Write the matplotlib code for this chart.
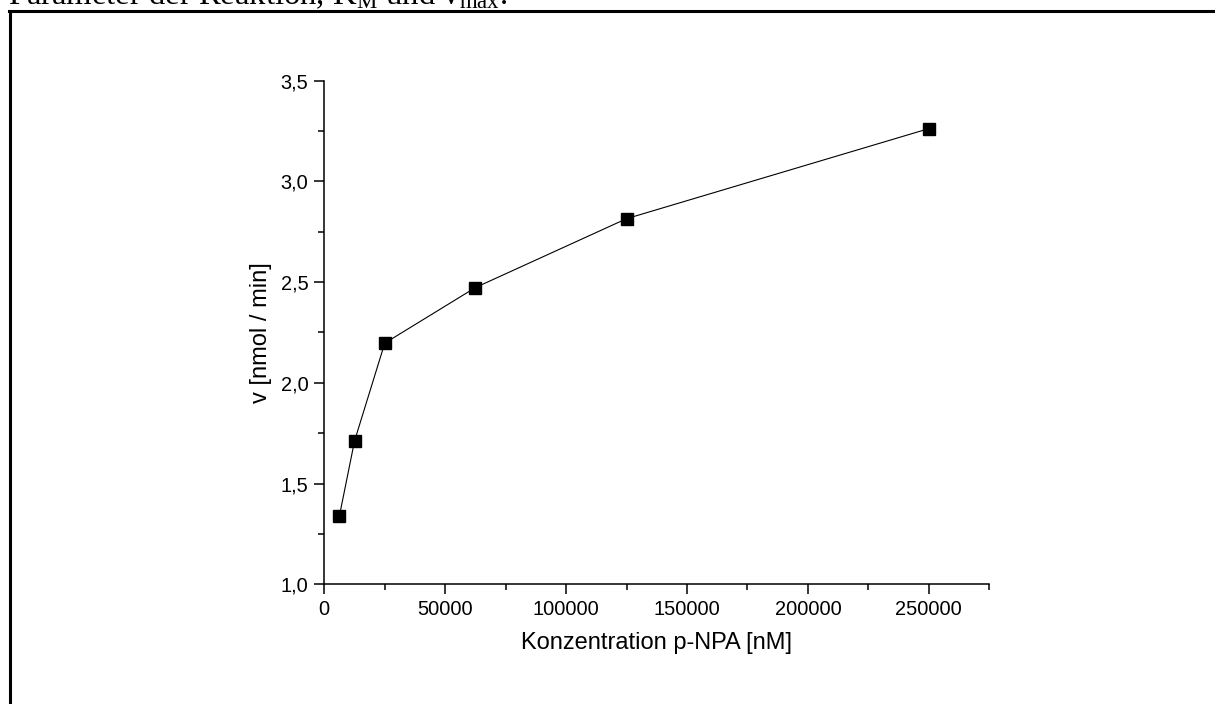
import numpy as np
import matplotlib
matplotlib.use('Agg')
import matplotlib.pyplot as plt
from matplotlib.lines import Line2D
from matplotlib.ticker import MultipleLocator, FuncFormatter

# substrate concentration (nM) and reaction rate (nmol/min)
konzentration = [6250, 12500, 25000, 62500, 125000, 250000]
rate = [1.339, 1.711, 2.197, 2.473, 2.815, 3.262]

plt.rcParams['font.family'] = ['Liberation Sans', 'DejaVu Sans']
plt.rcParams['mathtext.fontset'] = 'custom'
plt.rcParams['mathtext.rm'] = 'Liberation Serif'
plt.rcParams['mathtext.it'] = 'Liberation Serif'

fig = plt.figure(figsize=(12.15, 7.04), dpi=100)
ax = fig.add_axes([0.2669, 0.17, 0.5473, 0.7154])

ax.plot(konzentration, rate, color='black', linewidth=0.8,
        marker='s', markersize=8, markerfacecolor='black', markeredgecolor='black')

ax.set_xlim(0, 275000)
ax.set_ylim(1.0, 3.5)
ax.xaxis.set_major_locator(MultipleLocator(50000))
ax.xaxis.set_minor_locator(MultipleLocator(25000))
ax.yaxis.set_major_locator(MultipleLocator(0.5))
ax.yaxis.set_minor_locator(MultipleLocator(0.25))
ax.yaxis.set_major_formatter(FuncFormatter(lambda v, p: f'{v:.1f}'.replace('.', ',')))
ax.xaxis.set_major_formatter(FuncFormatter(lambda v, p: f'{int(v)}'))

for s in ['top', 'right']:
    ax.spines[s].set_visible(False)
for s in ['left', 'bottom']:
    ax.spines[s].set_linewidth(1.1)
ax.tick_params(which='major', direction='out', length=7, width=1.1, labelsize=14.4, pad=4.5)
ax.tick_params(which='minor', direction='out', length=4, width=1.1)

ax.set_xlabel('Konzentration p-NPA [nM]', fontsize=17, labelpad=9)
ax.set_ylabel('v [nmol / min]', fontsize=17, labelpad=6)

# page frame and cut-off caption above the chart
fig.add_artist(Line2D([9 / 1215, 1], [1 - 10.5 / 704] * 2, color='black', linewidth=2.2,
                      transform=fig.transFigure, solid_capstyle='projecting'))
fig.add_artist(Line2D([9.5 / 1215] * 2, [1 - 10.5 / 704, 0], color='black', linewidth=2.2,
                      transform=fig.transFigure, solid_capstyle='projecting'))
fig.text(8 / 1215, 1 - 4 / 704, r'Parameter der Reaktion, $\mathrm{K_M}$ und $\mathrm{v_{max}}$.',
         family='Liberation Serif', fontsize=23.5, va='baseline', ha='left')

fig.savefig('out.png', dpi=100)
